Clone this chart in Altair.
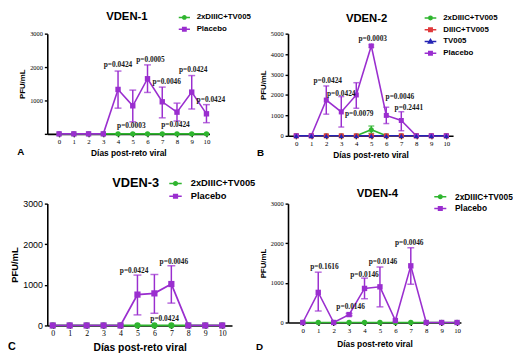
import altair as alt
import pandas as pd

DAYS = [0, 1, 2, 3, 4, 5, 6, 7, 8, 9, 10]
X_TITLE = "Días post-reto viral"
Y_TITLE = "PFU/mL"

S2X = "2xDIIIC+TV005"
SD = "DIIIC+TV005"
STV = "TV005"
SPL = "Placebo"

COLORS = {S2X: "#2fb52f", SD: "#e0383a", STV: "#2424b4", SPL: "#9a2ecf"}
SHAPES = {S2X: "circle", SD: "square", STV: "triangle-up", SPL: "square"}
# legend glyphs: short line with the marker on it
LEGEND_PATHS = {
    "circle": "M-1,0H1M0.3,0A0.3,0.3 0 1,1 -0.3,0A0.3,0.3 0 1,1 0.3,0Z",
    "square": "M-1,0H1M-0.3,-0.3H0.3V0.3H-0.3Z",
    "triangle-up": "M-1,0H1M0,-0.36L0.36,0.26H-0.36Z",
}

# ---------------- VDEN-1 (A)
a_title = "VDEN-1"
a_green = [0, 0, 0, 0, 0, 0, 0, 0, 0, 0, 0]
a_placebo = [0, 0, 0, 0, 1330, 840, 1650, 960, 650, 1250, 600]
a_err_day = [4, 5, 6, 7, 8, 9, 10]
a_err_lo = [770, 360, 1240, 480, 385, 745, 335]
a_err_hi = [1880, 1310, 2065, 1400, 920, 1745, 875]
a_p_text = ["p=0.0424", "p=0.0003", "p=0.0005", "p=0.0046", "p=0.0424", "p=0.0424", "p=0.0424"]
a_p_day = [4.0, 4.9, 6.2, 7.3, 7.9, 9.1, 10.3]
a_p_val = [2070, 220, 2220, 1545, 255, 1925, 1020]

# ---------------- VDEN-2 (B)
b_title = "VDEN-2"
b_green = [0, 0, 0, 0, 0, 300, 0, 0, 0, 0, 0]
b_red = [0, 0, 0, 0, 0, 0, 0, 0, 0, 0, 0]
b_blue = [0, 0, 0, 0, 0, 0, 0, 0, 0, 0, 0]
b_placebo = [0, 0, 1750, 1170, 2000, 4400, 1000, 750, 0, 0, 0]
b_err_day = [2, 3, 4, 5, 6, 7]
b_err_lo = [1060, 430, 1350, 4340, 600, 250]
b_err_hi = [2440, 1920, 2600, 4450, 1400, 1180]
b_gerr_day = [5]
b_gerr_lo = [120]
b_gerr_hi = [480]
b_p_text = ["p=0.0424", "p=0.0424", "p=0.0079", "p=0.0003", "p=0.0046", "p=0.2441"]
b_p_day = [2.1, 3.0, 4.2, 5.1, 6.9, 7.5]
b_p_val = [2660, 2050, 1060, 4720, 1910, 1340]

# ---------------- VDEN-3 (C)
c_title = "VDEN-3"
c_green = [0, 0, 0, 0, 0, 0, 0, 0, 0, 0, 0]
c_placebo = [0, 0, 0, 0, 0, 760, 790, 1020, 0, 0, 0]
c_err_day = [5, 6, 7]
c_err_lo = [260, 300, 550]
c_err_hi = [1240, 1255, 1470]
c_p_text = ["p=0.0424", "p=0.0424", "p=0.0046"]
c_p_day = [4.8, 6.6, 7.15]
c_p_val = [1350, 160, 1570]

# ---------------- VDEN-4 (D)
d_title = "VDEN-4"
d_green = [0, 0, 0, 0, 0, 0, 0, 0, 0, 0, 0]
d_placebo = [0, 760, 0, 200, 860, 900, 50, 1430, 0, 0, 0]
d_err_day = [1, 3, 4, 5, 7]
d_err_lo = [290, 170, 600, 395, 965]
d_err_hi = [1270, 230, 1120, 1400, 1885]
d_p_text = ["p=0.1616", "p=0.0146", "p=0.0146", "p=0.0146", "p=0.0046"]
d_p_day = [1.4, 3.1, 4.0, 5.2, 6.9]
d_p_val = [1410, 380, 1210, 1535, 2000]


def panel(series, legend_order, err_sets, p_text, p_day, p_val, title, letter, st):
    pts = pd.DataFrame([
        {"day": d, "value": v, "series": n}
        for n, vals in series for d, v in zip(DAYS, vals)
    ])
    xs = alt.Scale(domain=st["xdom"], nice=False, zero=False)
    ys = alt.Scale(domain=st["ydom"], nice=False, zero=False)
    xax = alt.Axis(values=DAYS, title=X_TITLE, grid=False,
                   labelFont="Liberation Serif", labelFontSize=st["xl"],
                   labelPadding=1, titleFont="Liberation Sans",
                   titleFontWeight="bold", titleFontSize=st["xt"],
                   titlePadding=st["xtp"])
    yax = alt.Axis(values=st["yvals"], title=Y_TITLE, format="d", grid=False,
                   labelExpr=st.get("lexpr", "datum.label"),
                   labelFont=st["ylf"], labelFontSize=st["yl"], labelPadding=2,
                   titleFont="Liberation Sans", titleFontWeight="bold",
                   titleFontSize=st["yt"], titlePadding=st["ytp"])

    def X(f):
        return alt.X(f, type="quantitative", scale=xs, axis=xax)

    def Y(f):
        return alt.Y(f, type="quantitative", scale=ys, axis=yax)

    layers = []
    for n, _ in series:
        layers.append(
            alt.Chart(pts[pts["series"] == n]).mark_line(strokeWidth=st["lw"]).encode(
                x=X("day"), y=Y("value"), color=alt.value(COLORS[n]))
        )
    for n, days, lo, hi in err_sets:
        edf = pd.DataFrame({"day": days, "lo": lo, "hi": hi})
        layers.append(
            alt.Chart(edf).mark_rule(strokeWidth=1.5).encode(
                x=X("day"), y=Y("lo"), y2="hi", color=alt.value(COLORS[n]))
        )
        cdf = pd.DataFrame({"day": days + days, "cap": lo + hi})
        layers.append(
            alt.Chart(cdf).mark_tick(orient="horizontal", size=st["cap"], thickness=1.5).encode(
                x=X("day"), y=Y("cap"), color=alt.value(COLORS[n]))
        )
    for n, _ in series:
        layers.append(
            alt.Chart(pts[pts["series"] == n]).mark_point(
                filled=True, size=st["ms"], opacity=1, shape=SHAPES[n]).encode(
                x=X("day"), y=Y("value"), color=alt.value(COLORS[n]))
        )
    # legend carrier: invisible marks, legend drawn with line+marker glyphs
    leg = alt.Legend(
        orient="none", legendX=st["lx"], legendY=st["ly"], title=None, padding=0,
        labelFont="Liberation Sans", labelFontWeight="bold",
        labelFontSize=st["lfs"], labelColor="black", labelOffset=st["lof"],
        symbolSize=st["lss"], symbolOpacity=1, symbolStrokeWidth=1.5,
        rowPadding=st["lrp"], labelLimit=200,
    )
    cols = [COLORS[s] for s in legend_order]
    layers.append(
        alt.Chart(pts).mark_point(filled=True, size=0, opacity=0).encode(
            x=X("day"), y=Y("value"),
            fill=alt.Fill("series:N", scale=alt.Scale(domain=legend_order, range=cols), legend=leg),
            stroke=alt.Stroke("series:N", scale=alt.Scale(domain=legend_order, range=cols), legend=leg),
            shape=alt.Shape("series:N", scale=alt.Scale(
                domain=legend_order, range=[LEGEND_PATHS[SHAPES[s]] for s in legend_order]), legend=leg),
        )
    )
    adf = pd.DataFrame({"day": p_day, "value": p_val, "label": p_text})
    layers.append(
        alt.Chart(adf).mark_text(font="Liberation Serif", fontSize=7.5, fontWeight="bold",
                                 color="#1a1a1a").encode(
            x=X("day"), y=Y("value"), text="label:N")
    )
    layers.append(
        alt.Chart(pd.DataFrame({"t": [title]})).mark_text(
            font="Liberation Sans", fontWeight="bold", fontSize=st["tfs"],
            align="center", baseline="middle", color="black").encode(
            x=alt.value(st["tx"]), y=alt.value(st["ty"]), text="t:N")
    )
    layers.append(
        alt.Chart(pd.DataFrame({"t": [letter]})).mark_text(
            font="Liberation Sans", fontWeight="bold", fontSize=st["lefs"],
            align="center", baseline="middle", color="black").encode(
            x=alt.value(st["lex"]), y=alt.value(st["ley"]), text="t:N")
    )
    return alt.layer(*layers).properties(width=st["w"], height=st["h"])


Y3 = [0, 1000, 2000, 3000]
Y5 = [0, 1000, 2000, 3000, 4000, 5000]

pA = panel([(S2X, a_green), (SPL, a_placebo)], [S2X, SPL],
           [(SPL, a_err_day, a_err_lo, a_err_hi)],
           a_p_text, a_p_day, a_p_val, a_title, "A",
           dict(w=165, h=102, xdom=[-0.8, 10.2], ydom=[0, 3000], yvals=Y3,
                lexpr="datum.value == 0 ? '' : datum.label",
                xl=7, xt=8.5, xtp=4, ylf="Liberation Serif", yl=6.5, yt=8, ytp=3,
                lw=1.6, cap=7, ms=30, lx=133, ly=-23, lfs=8, lss=130, lof=6, lrp=-1,
                tfs=11.5, tx=81, ty=-17, lefs=10, lex=-27, ley=121))

pB = panel([(S2X, b_green), (SD, b_red), (SPL, b_placebo), (STV, b_blue)],
           [S2X, SD, STV, SPL],
           [(SPL, b_err_day, b_err_lo, b_err_hi), (S2X, b_gerr_day, b_gerr_lo, b_gerr_hi)],
           b_p_text, b_p_day, b_p_val, b_title, "B",
           dict(w=168, h=104, xdom=[-0.55, 10.45], ydom=[0, 5000], yvals=Y5,
                xl=7, xt=8.5, xtp=4, ylf="Liberation Serif", yl=6.5, yt=8, ytp=3,
                lw=1.6, cap=6, ms=26, lx=138, ly=-23, lfs=8, lss=140, lof=6, lrp=0,
                tfs=11.5, tx=80, ty=-15, lefs=10, lex=-28, ley=122))

pC = panel([(S2X, c_green), (SPL, c_placebo)], [S2X, SPL],
           [(SPL, c_err_day, c_err_lo, c_err_hi)],
           c_p_text, c_p_day, c_p_val, c_title, "C",
           dict(w=188, h=124, xdom=[-0.32, 10.58], ydom=[0, 3000], yvals=Y3,
                xl=8, xt=10.5, xtp=6, ylf="Liberation Sans", yl=9, yt=9.5, ytp=3,
                lw=1.8, cap=8, ms=40, lx=123, ly=-28, lfs=9.5, lss=160, lof=8, lrp=0,
                tfs=13, tx=90, ty=-21, lefs=11, lex=-36, ley=146))

pD = panel([(S2X, d_green), (SPL, d_placebo)], [S2X, SPL],
           [(SPL, d_err_day, d_err_lo, d_err_hi)],
           d_p_text, d_p_day, d_p_val, d_title, "D",
           dict(w=176, h=121, xdom=[-0.96, 10.25], ydom=[0, 3000], yvals=Y3,
                xl=7, xt=8.5, xtp=6, ylf="Liberation Serif", yl=6.5, yt=8, ytp=3,
                lw=1.6, cap=7, ms=30, lx=148, ly=-14, lfs=8.5, lss=150, lof=8, lrp=0,
                tfs=11.5, tx=91, ty=-10, lefs=10, lex=-29, ley=146))

chart = alt.concat(
    pA, pB, pC, pD, columns=2, spacing={"row": 69, "column": 57},
    bounds="flush", align="each"
).resolve_scale(
    fill="independent", stroke="independent", shape="independent",
    x="independent", y="independent"
).configure_view(stroke=None).configure_axis(
    domainColor="black", domainWidth=1.6, tickColor="black", tickWidth=1.4,
    tickSize=3, labelColor="black", titleColor="black"
).properties(padding=0, background="white")

chart.save("out.html", embed_options={"renderer": "svg", "actions": False})
